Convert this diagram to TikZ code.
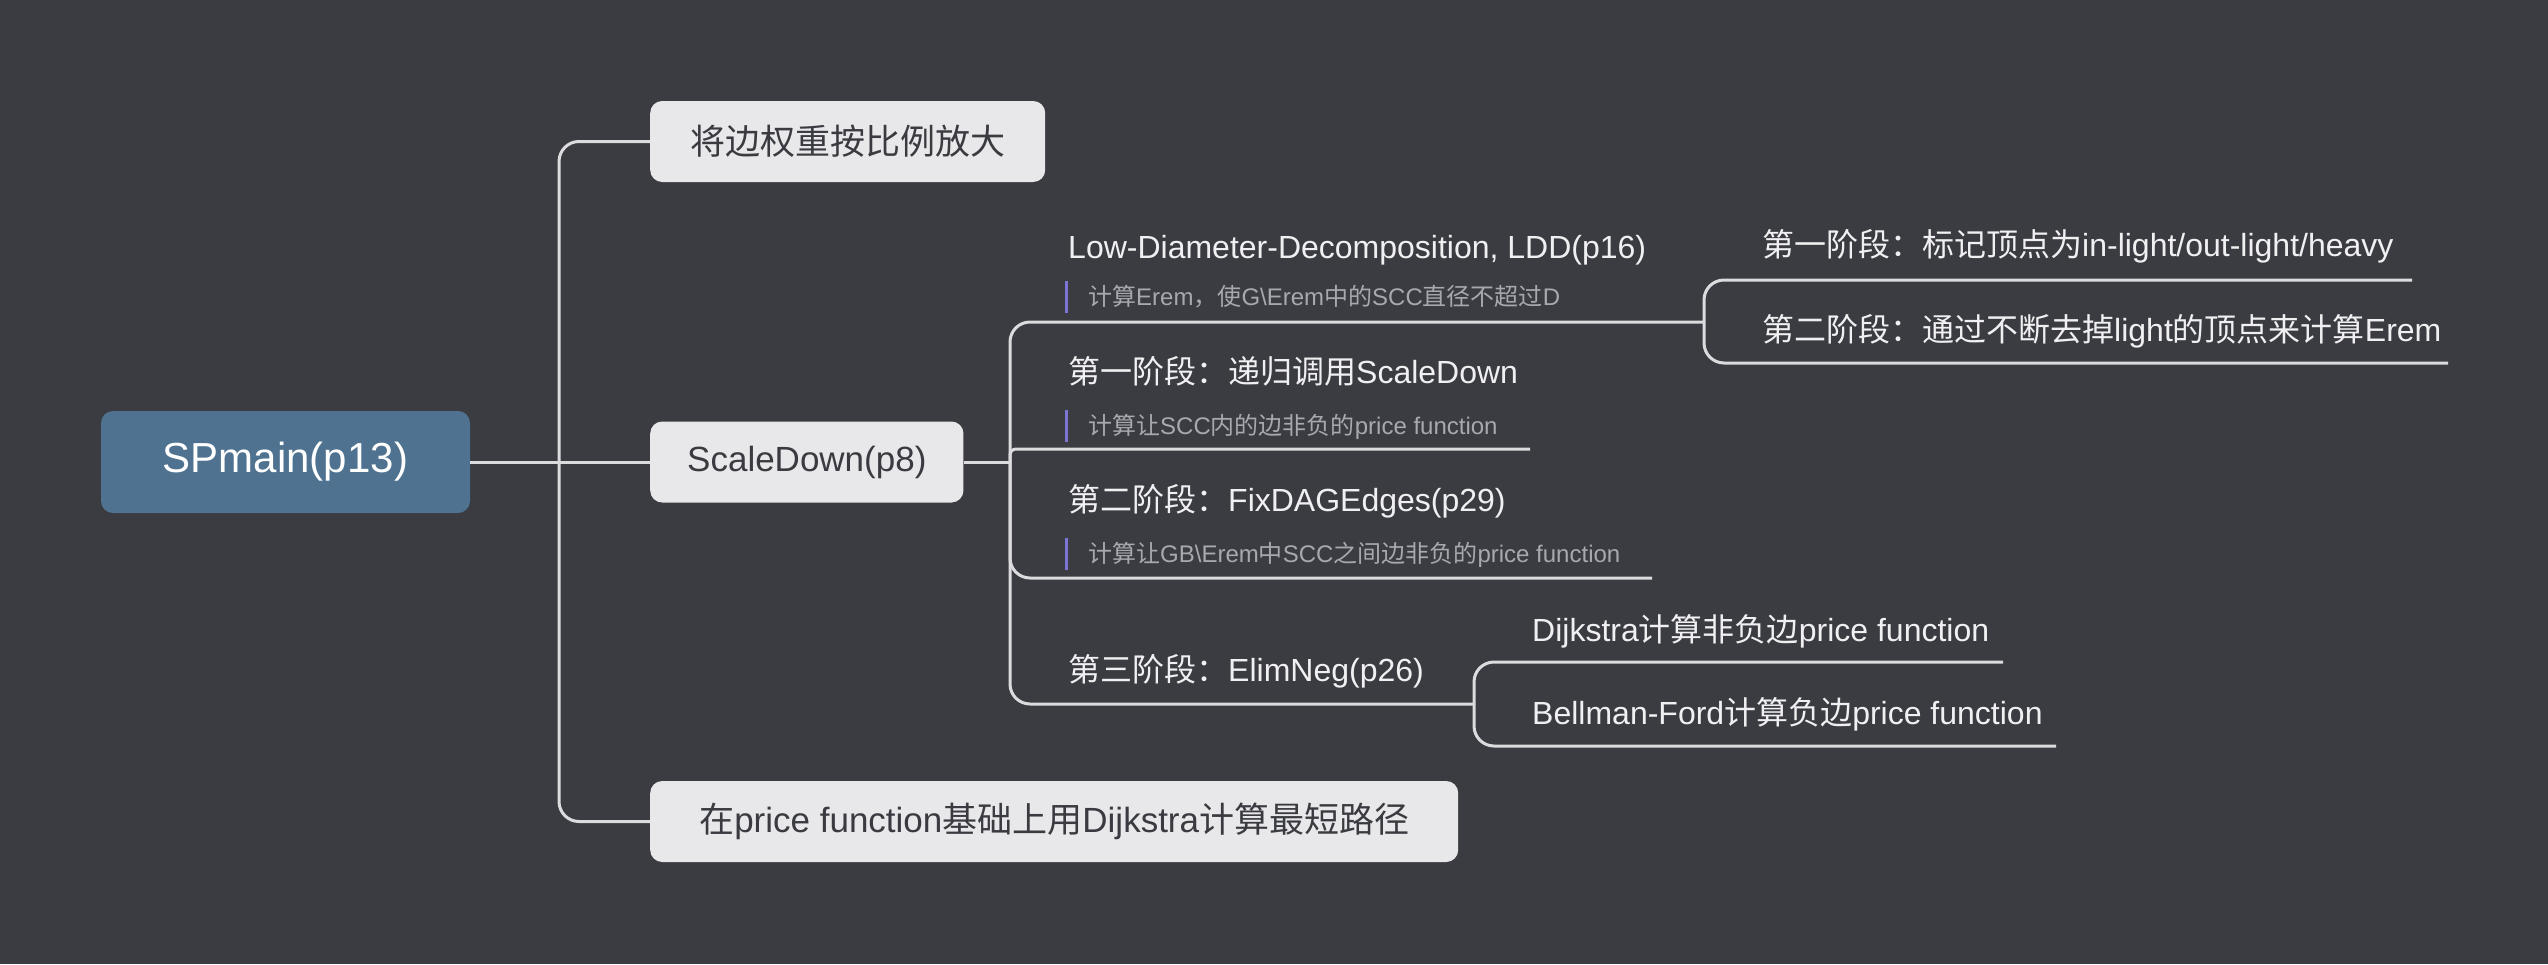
\documentclass[tikz,border=0pt]{standalone}
\usepackage{fontspec}
\setmainfont{Liberation Sans}
\newfontfamily\cjk{Noto Sans CJK SC}
\newcommand{\zh}[1]{{\cjk #1}}
\definecolor{bgcol}{RGB}{59,60,65}
\definecolor{rootcol}{RGB}{78,114,143}
\definecolor{boxcol}{RGB}{232,232,234}
\definecolor{boxtext}{RGB}{58,59,64}
\definecolor{linecol}{RGB}{220,220,222}
\definecolor{subcol}{RGB}{240,240,242}
\definecolor{notecol}{RGB}{168,168,176}
\definecolor{barcol}{RGB}{125,117,214}

\begin{document}
\begin{tikzpicture}[x=1pt,y=-1pt]
\tikzset{
  rootbox/.style={fill=rootcol, text=white, rounded corners=12pt, minimum width=369pt, minimum height=102pt, font=\fontsize{42}{50}\selectfont},
  topicbox/.style={anchor=west, fill=boxcol, text=boxtext, rounded corners=12pt, inner xsep=37pt, minimum height=81pt, font=\fontsize{35}{42}\selectfont},
  subtopic/.style={anchor=west, text=subcol, inner sep=0pt, text height=24pt, text depth=2pt, font=\fontsize{32}{38}\selectfont},
  notetext/.style={anchor=west, text=notecol, inner xsep=22pt, inner ysep=0pt, minimum height=31pt, text height=18pt, text depth=2pt, font=\fontsize{24}{29}\selectfont},
  link/.style={draw=linecol, line width=3pt, rounded corners=20pt},
  notebar/.style={draw=barcol, line width=3pt}
}
\fill[bgcol] (0,0) rectangle (2548,964);

% root and first level
\node[rootbox] (root) at (285.5,462) {SPmain(p13)};
\node[topicbox, minimum width=395pt] (weight) at (650,141.5) {\zh{将边权重按比例放大}};
\node[topicbox] (scale) at (650,462) {ScaleDown(p8)};
\node[topicbox, minimum width=808pt] (final) at (650,821.5) {\zh{在}price function\zh{基础上用}Dijkstra\zh{计算最短路径}};

% ScaleDown parts
\node[subtopic] (ldd) at (1068,247) {Low-Diameter-Decomposition, LDD(p16)};
\node[notetext] (lddn) at (1066,297) {\zh{计算}Erem\zh{，使}G\textbackslash Erem\zh{中的}SCC\zh{直径不超过}D};
\node[subtopic] (s1) at (1068,372) {\zh{第一阶段：递归调用}ScaleDown};
\node[notetext] (s1n) at (1066,426) {\zh{计算让}SCC\zh{内的边非负的}price function};
\node[subtopic] (s2) at (1068,500) {\zh{第二阶段：}FixDAGEdges(p29)};
\node[notetext] (s2n) at (1066,554) {\zh{计算让}GB\textbackslash Erem\zh{中}SCC\zh{之间边非负的}price function};
\node[subtopic] (s3) at (1068,670) {\zh{第三阶段：}ElimNeg(p26)};

% LDD and ElimNeg parts
\node[subtopic] (m1) at (1762,245) {\zh{第一阶段：标记顶点为}in-light/out-light/heavy};
\node[subtopic] (m2) at (1762,330) {\zh{第二阶段：通过不断去掉}light\zh{的顶点来计算}Erem};
\node[subtopic] (dij) at (1532,630) {Dijkstra\zh{计算非负边}price function};
\node[subtopic] (bf) at (1532,713) {Bellman-Ford\zh{计算负边}price function};

\foreach \n in {lddn,s1n,s2n}
  \draw[notebar] (\n.south west) -- (\n.north west);

% junctions and underline ends
\coordinate (j1) at (559,462);
\coordinate (j2) at (1010,462);
\coordinate (lddU) at (1704,322);
\coordinate (s1U) at (1530,449);
\coordinate (s2U) at (1652,578);
\coordinate (s3U) at (1474,704);
\coordinate (m1U) at (2412,280);
\coordinate (m2U) at (2448,363);
\coordinate (dijU) at (2003,662);
\coordinate (bfU) at (2056,746);

\draw[link] (root.east) -- (scale.west);
\draw[link] (j1) |- (weight.west);
\draw[link] (j1) |- (final.west);

\draw[link] (scale.east) -- (j2);
\draw[link] (j2) |- (lddU);
\draw[link, rounded corners=6pt] (j2) |- (s1U);
\draw[link] (j2) |- (s2U);
\draw[link] (j2) |- (s3U);

\draw[link] (lddU) |- (m1U);
\draw[link] (lddU) |- (m2U);
\draw[link] (s3U) |- (dijU);
\draw[link] (s3U) |- (bfU);
\end{tikzpicture}
\end{document}
